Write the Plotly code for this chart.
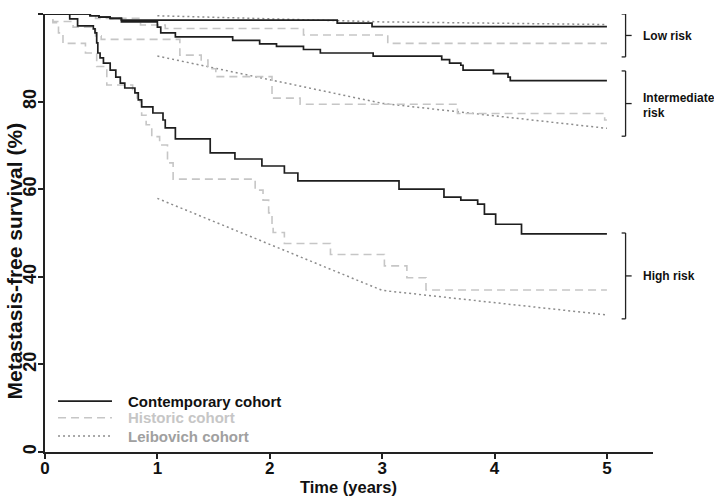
import plotly.graph_objects as go

# ---------------- data ----------------
contemporary_low_t = [0, 0.40, 0.48, 0.58, 0.68, 2.60, 2.91, 5.0]
contemporary_low_s = [100, 99.6, 99.3, 99.0, 98.6, 97.9, 97.1, 97.1]

contemporary_int_t = [0, 0.40, 0.48, 0.58, 0.68, 1.00, 1.03, 1.16, 1.67, 1.91, 2.06, 2.30, 2.45,
                      2.92, 3.53, 3.60, 3.70, 3.72, 3.99, 4.12, 4.14, 5.0]
contemporary_int_s = [100, 99.6, 99.3, 99.0, 98.2, 97.0, 95.7, 94.8, 94.0, 93.2, 92.6, 91.9, 91.1,
                      90.4, 89.6, 88.8, 88.3, 87.2, 86.4, 85.6, 84.8, 84.8]

contemporary_high_t = [0, 0.22, 0.29, 0.43, 0.445, 0.46, 0.47, 0.49, 0.52, 0.58, 0.63, 0.67, 0.71,
                       0.80, 0.83, 0.86, 0.96, 1.05, 1.07, 1.16, 1.47, 1.69, 1.93, 2.13, 2.25,
                       3.15, 3.55, 3.70, 3.85, 3.91, 4.01, 4.24, 5.0]
contemporary_high_s = [100, 98.9, 97.3, 96.6, 95.7, 93.4, 91.1, 90.0, 88.8, 87.2, 85.6, 84.2, 83.1,
                       82.0, 80.4, 78.8, 77.4, 75.8, 74.0, 71.5, 68.3, 66.9, 65.3, 63.7, 61.9,
                       60.0, 58.2, 57.5, 56.6, 54.3, 52.0, 49.8, 49.8]

historic_low_t = [0, 0.45, 0.85, 1.07, 2.30, 3.05, 5.0]
historic_low_s = [100, 99.0, 97.5, 96.7, 95.2, 93.3, 93.3]

historic_int_t = [0, 0.07, 0.25, 0.45, 0.50, 1.20, 1.39, 1.45, 1.52, 2.02, 2.27, 3.67, 4.98, 5.0]
historic_int_s = [100, 98.3, 97.0, 95.0, 94.2, 90.6, 89.5, 87.5, 85.7, 80.8, 79.4, 77.3, 75.8, 75.8]

historic_high_t = [0, 0.07, 0.12, 0.16, 0.36, 0.46, 0.55, 0.78, 0.82, 0.86, 0.90, 0.95, 1.02, 1.09,
                   1.14, 1.87, 1.94, 1.99, 2.02, 2.03, 2.13, 2.54, 3.02, 3.22, 3.39, 5.0]
historic_high_s = [100, 98.0, 95.7, 93.3, 91.1, 88.0, 83.8, 82.0, 80.0, 76.9, 74.7, 72.0, 70.1, 66.0,
                   62.3, 59.8, 57.5, 54.6, 52.0, 50.1, 47.6, 45.1, 42.5, 39.8, 37.0, 37.0]

leibovich_t = [1, 3, 5]
leibovich_low_s = [99.6, 98.2, 97.6]
leibovich_int_s = [90.4, 79.6, 73.9]
leibovich_high_s = [57.9, 36.9, 31.3]

x_ticks = [0, 1, 2, 3, 4, 5]
y_ticks = [0, 20, 40, 60, 80, 100]

risk_labels = ["Low risk", "Intermediate", "risk", "High risk"]
bracket_ranges = [(100, 90.2), (87.0, 72.1), (50.0, 30.4)]

cohort_names = ["Contemporary cohort", "Historic cohort", "Leibovich cohort"]

x_title = "Time (years)"
y_title = "Metastasis-free survival (%)"

# ---------------- styles ----------------
C_CONT = "#1e1e1e"
C_HIST = "#c6c6c6"
C_LEIB = "#8c8c8c"
FONT = "Liberation Sans, Arial, sans-serif"

W, H = 714, 497
ML, MR, MT, MB = 45, 61, 14, 45
PW, PH = W - ML - MR, H - MT - MB

fig = go.Figure()

def add_km(t, s, color, dash, width, shape="hv"):
    fig.add_trace(go.Scatter(x=t, y=s, mode="lines", line=dict(color=color, dash=dash, width=width, shape=shape),
                             showlegend=False, hoverinfo="skip"))

# Leibovich (dotted, straight segments)
for s in [leibovich_low_s, leibovich_int_s, leibovich_high_s]:
    add_km(leibovich_t, s, C_LEIB, "2px,3px", 1.5, shape="linear")
# Historic (dashed)
for t, s in [(historic_low_t, historic_low_s), (historic_int_t, historic_int_s), (historic_high_t, historic_high_s)]:
    add_km(t, s, C_HIST, "8px,5px", 1.6)
# Contemporary (solid)
for t, s in [(contemporary_low_t, contemporary_low_s), (contemporary_int_t, contemporary_int_s),
             (contemporary_high_t, contemporary_high_s)]:
    add_km(t, s, C_CONT, "solid", 1.7)

shapes = []
annotations = []

# risk brackets on the right
bx0, bx1, bx2 = 5.131, 5.166, 5.220
for (top, bot) in bracket_ranges:
    mid = (top + bot) / 2
    line = dict(color="#222", width=1.3)
    shapes.append(dict(type="line", xref="x", yref="y", x0=bx1, x1=bx1, y0=bot, y1=top, line=line))
    shapes.append(dict(type="line", xref="x", yref="y", x0=bx0, x1=bx1, y0=top, y1=top, line=line))
    shapes.append(dict(type="line", xref="x", yref="y", x0=bx0, x1=bx1, y0=bot, y1=bot, line=line))
    shapes.append(dict(type="line", xref="x", yref="y", x0=bx1, x1=bx2, y0=mid, y1=mid, line=line))

lab_font = dict(family=FONT, size=12, color="#111", weight="bold")
for text, y in zip(risk_labels, [94.9, 80.9, 77.3, 40.2]):
    annotations.append(dict(x=5.30, y=y, xref="x", yref="y", text=text, showarrow=False,
                            xanchor="left", yanchor="middle", font=lab_font))

# legend (drawn manually)
leg_y = [11.6, 7.8, 3.65]
leg_styles = [(C_CONT, None, 1.8, "#111"), (C_HIST, "dash", 1.5, C_HIST), (C_LEIB, "dot", 1.5, "#a0a0a0")]
for name, y, (lc, dash, w, tc) in zip(cohort_names, leg_y, leg_styles):
    d = dict(color=lc, width=w)
    if dash == "dash":
        d["dash"] = "8px,5px"
    elif dash == "dot":
        d["dash"] = "2px,3px"
    shapes.append(dict(type="line", xref="x", yref="y", x0=0.116, x1=0.596, y0=y, y1=y, line=d))
    annotations.append(dict(x=0.72, y=y, xref="x", yref="y", text=name, showarrow=False,
                            xanchor="left", yanchor="middle",
                            font=dict(family=FONT, size=15, color=tc, weight="bold")))

# axis titles as annotations (pixel-placed)
annotations.append(dict(x=(348 - ML) / PW, y=(H - MB - 487) / PH, xref="paper", yref="paper",
                        text=x_title, showarrow=False, xanchor="center", yanchor="middle",
                        font=dict(family=FONT, size=16.5, color="#111", weight="bold")))
annotations.append(dict(x=(13.5 - ML) / PW, y=(H - MB - 261) / PH, xref="paper", yref="paper",
                        text=y_title, showarrow=False, xanchor="center", yanchor="middle", textangle=-90,
                        font=dict(family=FONT, size=21, color="#111", weight="bold")))

fig.update_layout(
    width=W, height=H,
    margin=dict(l=ML, r=MR, t=MT, b=MB),
    paper_bgcolor="white", plot_bgcolor="white",
    shapes=shapes, annotations=annotations,
    showlegend=False,
    font=dict(family=FONT, color="#111"),
)
fig.update_xaxes(range=[0, 5.41], tickvals=x_ticks, ticktext=[str(v) for v in x_ticks],
                 automargin=False, ticklabelstandoff=-5,
                 showgrid=False, zeroline=False, showline=True, linecolor="#222", linewidth=1.5,
                 ticks="outside", ticklen=5, tickwidth=1.5, tickcolor="#222",
                 tickfont=dict(family=FONT, size=17, color="#111", weight="bold"))
fig.update_yaxes(range=[0, 100], tickvals=y_ticks, ticktext=[str(v) for v in y_ticks],
                 automargin=False, ticklabelstandoff=-5,
                 showgrid=False, zeroline=False, showline=True, linecolor="#222", linewidth=1.5,
                 ticks="outside", ticklen=5, tickwidth=1.5, tickcolor="#222", tickangle=-90,
                 tickfont=dict(family=FONT, size=18, color="#111", weight="bold"))

# remove the default 8px page margin so the 714x497 figure fills the window exactly
fig.write_html("out.html", config={"displayModeBar": False},
               post_script="document.body.style.margin='0';")
